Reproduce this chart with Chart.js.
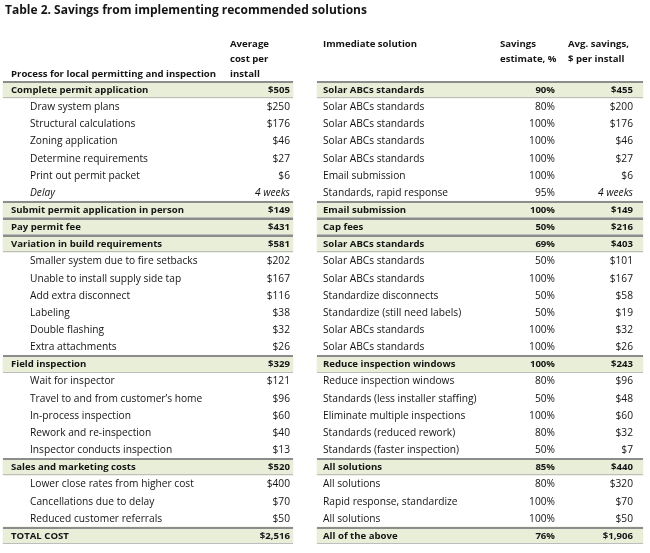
<!DOCTYPE html>
<html>
<head>
<meta charset="utf-8">
<script src="https://cdn.jsdelivr.net/npm/chart.js@4.4.0/dist/chart.umd.min.js"></script>
<style>
  html, body { margin: 0; padding: 0; background: #fff; }
  #caja { width: 650px; height: 553px; }
</style>
</head>
<body>
<div id="caja"><canvas id="tabla"></canvas></div>
<script>
// ------- Datos de la tabla -------
const processNames = [
  "Complete permit application", "Draw system plans", "Structural calculations",
  "Zoning application", "Determine requirements", "Print out permit packet", "Delay",
  "Submit permit application in person", "Pay permit fee", "Variation in build requirements",
  "Smaller system due to fire setbacks", "Unable to install supply side tap",
  "Add extra disconnect", "Labeling", "Double flashing", "Extra attachments",
  "Field inspection", "Wait for inspector", "Travel to and from customer\u2019s home",
  "In-process inspection", "Rework and re-inspection", "Inspector conducts inspection",
  "Sales and marketing costs", "Lower close rates from higher cost",
  "Cancellations due to delay", "Reduced customer referrals", "TOTAL COST"
];
const processCosts = [
  "$505", "$250", "$176", "$46", "$27", "$6", "4 weeks", "$149", "$431", "$581",
  "$202", "$167", "$116", "$38", "$32", "$26", "$329", "$121", "$96", "$60", "$40",
  "$13", "$520", "$400", "$70", "$50", "$2,516"
];
const solutions = [
  "Solar ABCs standards", "Solar ABCs standards", "Solar ABCs standards",
  "Solar ABCs standards", "Solar ABCs standards", "Email submission",
  "Standards, rapid response", "Email submission", "Cap fees", "Solar ABCs standards",
  "Solar ABCs standards", "Solar ABCs standards", "Standardize disconnects",
  "Standardize (still need labels)", "Solar ABCs standards", "Solar ABCs standards",
  "Reduce inspection windows", "Reduce inspection windows",
  "Standards (less installer staffing)", "Eliminate multiple inspections",
  "Standards (reduced rework)", "Standards (faster inspection)", "All solutions",
  "All solutions", "Rapid response, standardize", "All solutions", "All of the above"
];
const savingsPct = [
  "90%", "80%", "100%", "100%", "100%", "100%", "95%", "100%", "50%", "69%",
  "50%", "100%", "50%", "50%", "100%", "100%", "100%", "80%", "50%", "100%", "80%",
  "50%", "85%", "80%", "100%", "100%", "76%"
];
const avgSavings = [
  "$455", "$200", "$176", "$46", "$27", "$6", "4 weeks", "$149", "$216", "$403",
  "$101", "$167", "$58", "$19", "$32", "$26", "$243", "$96", "$48", "$60", "$32",
  "$7", "$440", "$320", "$70", "$50", "$1,906"
];
// tipo de fila: head = fila resaltada en negrita, sub = detalle, delay = fila en cursiva
const rowKind = [
  "head", "sub", "sub", "sub", "sub", "sub", "delay", "head", "head", "head",
  "sub", "sub", "sub", "sub", "sub", "sub", "head", "sub", "sub", "sub", "sub",
  "sub", "head", "sub", "sub", "sub", "head"
];

const titleText = "Table 2. Savings from implementing recommended solutions";
const headLeft = ["Process for local permitting and inspection"];
const headCost = ["Average", "cost per", "install"];
const headSolution = ["Immediate solution"];
const headPct = ["Savings", "estimate, %"];
const headSav = ["Avg. savings,", "$ per install"];

// ------- Posiciones (pixeles en el eje x, que va de 0 a 650) -------
const L = {
  leftBand: [3, 293], rightBand: [317, 643],
  nameX: 11, indentX: 30, costRight: 290,
  solX: 323, pctRight: 555, savRight: 633,
  headRows: [44, 59, 74]
};
const FONT = '"Open Sans", sans-serif';
const TXT = '#141414';
const SIZE_REG = 10.2;
const SIZE_BOLD = 9.6;

function fuente(peso, estilo) {
  const size = peso === 'bold' ? SIZE_BOLD : SIZE_REG;
  return `${estilo} ${peso} ${size}px ${FONT}`;
}

// ------- Plugin que escribe el contenido de las celdas -------
const celdasPlugin = {
  id: 'celdas',
  afterDatasetsDraw(chart) {
    const ctx = chart.ctx;
    const yScale = chart.scales.y;
    ctx.save();

    // bordes de las filas resaltadas
    chart.data.datasets.forEach((ds, di) => {
      chart.getDatasetMeta(di).data.forEach((bar, i) => {
        if (!ds.data[i]) return;
        const p = bar.getProps(['x', 'base', 'y', 'height'], true);
        const x0 = Math.min(p.x, p.base), w = Math.abs(p.x - p.base);
        const top = Math.round(p.y - p.height / 2), bottom = Math.round(p.y + p.height / 2);
        ctx.fillStyle = '#8c8c8c';
        ctx.fillRect(x0, top, w, 2);
        ctx.fillStyle = '#bdbdbd';
        ctx.fillRect(x0, bottom - 1, w, 1);
      });
    });

    // texto de cada fila
    ctx.fillStyle = TXT;
    ctx.textBaseline = 'middle';
    processNames.forEach((name, i) => {
      const py = yScale.getPixelForValue(i) + 0.5;
      const kind = rowKind[i];
      const peso = kind === 'head' ? 'bold' : 'normal';
      const ital = kind === 'delay' ? 'italic' : 'normal';

      ctx.font = fuente(peso, ital);
      ctx.textAlign = 'left';
      ctx.fillText(name, kind === 'head' ? L.nameX : L.indentX, py);
      ctx.textAlign = 'right';
      ctx.fillText(processCosts[i], L.costRight, py);

      ctx.font = fuente(peso, 'normal');
      ctx.textAlign = 'left';
      ctx.fillText(solutions[i], L.solX, py);
      ctx.textAlign = 'right';
      ctx.fillText(savingsPct[i], L.pctRight, py);
      ctx.font = fuente(peso, ital);
      ctx.fillText(avgSavings[i], L.savRight, py);
    });

    // encabezados
    ctx.font = fuente('bold', 'normal');
    ctx.textAlign = 'left';
    ctx.fillText(headLeft[0], L.nameX, L.headRows[2]);
    headCost.forEach((t, k) => ctx.fillText(t, 230, L.headRows[k]));
    ctx.fillText(headSolution[0], L.solX, L.headRows[0]);
    headPct.forEach((t, k) => ctx.fillText(t, 500, L.headRows[k]));
    headSav.forEach((t, k) => ctx.fillText(t, 568, L.headRows[k]));

    // titulo
    ctx.font = `bold 12px ${FONT}`;
    ctx.fillText(titleText, 5, 11);

    ctx.restore();
  }
};

const bandaIzq = rowKind.map(k => k === 'head' ? L.leftBand : null);
const bandaDer = rowKind.map(k => k === 'head' ? L.rightBand : null);

new Chart(document.getElementById('tabla'), {
  type: 'bar',
  data: {
    labels: processNames,
    datasets: [
      { data: bandaIzq, backgroundColor: '#e9eed9', borderWidth: 0, barPercentage: 1, categoryPercentage: 1 },
      { data: bandaDer, backgroundColor: '#e9eed9', borderWidth: 0, barPercentage: 1, categoryPercentage: 1 }
    ]
  },
  options: {
    indexAxis: 'y',
    grouped: false,
    responsive: true,
    maintainAspectRatio: false,
    animation: false,
    layout: { padding: { top: 81, bottom: 9, left: 0, right: 0 } },
    scales: {
      x: { type: 'linear', min: 0, max: 650, display: false },
      y: { type: 'category', display: false, grid: { display: false } }
    },
    plugins: {
      legend: { display: false },
      tooltip: { enabled: false },
      title: { display: false }
    }
  },
  plugins: [celdasPlugin]
});
</script>
</body>
</html>
